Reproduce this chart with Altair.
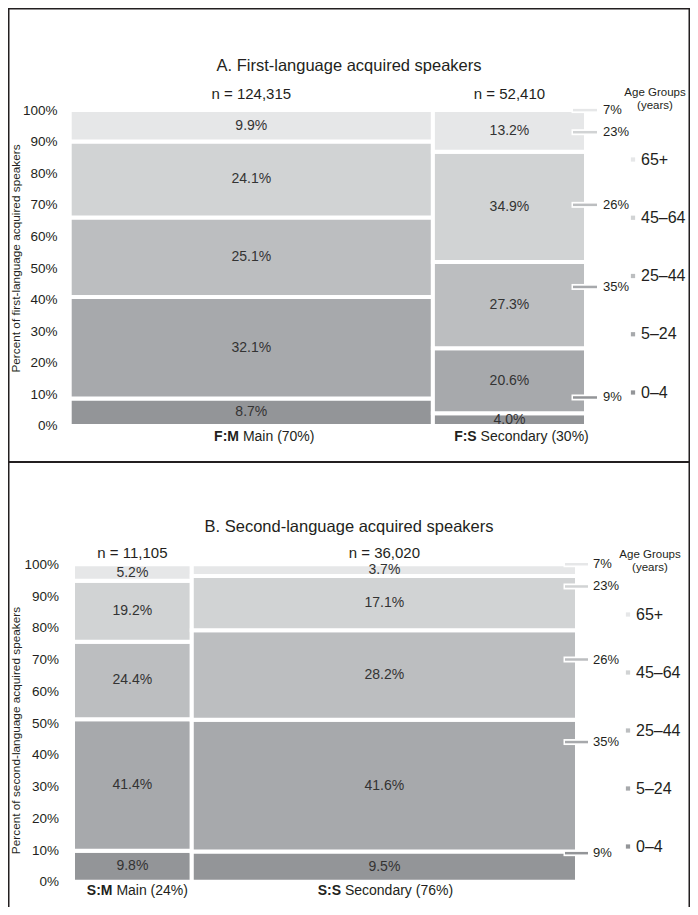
import altair as alt
import pandas as pd

FONT = "Liberation Sans"
INK = "#231f20"

# ---------------- data ----------------
age_groups = ["0–4", "5–24", "25–44", "45–64", "65+"]
age_colors = ["#939598", "#a7a9ac", "#bcbec0", "#d1d3d4", "#e6e7e8"]

a_title = "A. First-language acquired speakers"
a_ytitle = "Percent of first-language acquired speakers"
a_codes = ["F:M", "F:S"]
a_names = ["Main (70%)", "Secondary (30%)"]
a_n = [124315, 52410]
a_main = [8.7, 32.1, 25.1, 24.1, 9.9]
a_secondary = [4.0, 20.6, 27.3, 34.9, 13.2]

b_title = "B. Second-language acquired speakers"
b_ytitle = "Percent of second-language acquired speakers"
b_codes = ["S:M", "S:S"]
b_names = ["Main (24%)", "Secondary (76%)"]
b_n = [11105, 36020]
b_main = [9.8, 41.4, 24.4, 19.2, 5.2]
b_secondary = [9.5, 41.6, 28.2, 17.1, 3.7]

reference_pct = [9, 35, 26, 23, 7]

legend_order = list(reversed(age_groups))
legend_colors = list(reversed(age_colors))

# Arial-like advance widths (per 1000 em) for the label characters
REG = {' ': 278, '(': 333, ')': 333, '%': 889, ':': 278, 'M': 833, 'S': 667, 'F': 611,
       'a': 556, 'i': 222, 'n': 556, 'e': 556, 'c': 500, 'o': 556, 'd': 556, 'r': 333, 'y': 500}
BOLD = {'F': 611, ':': 333, 'M': 833, 'S': 667}


def text_w(s, size, table):
    return sum(table.get(ch, 556) for ch in s) * size / 1000.0


def seg_table(ns, pct_lists):
    total = sum(ns)
    rows = []
    x = 0.0
    for n, pcts in zip(ns, pct_lists):
        w = n / total
        s = sum(pcts)
        y = 0.0
        for g, p in zip(age_groups, pcts):
            h = p / s
            rows.append(dict(age=g, x0=x, x1=x + w, y0=y, y1=y + h,
                             xm=x + w / 2, ym=y + h / 2, label=f"{p:.1f}%"))
            y += h
        x += w
    return pd.DataFrame(rows)


def bar_table(codes, names, ns):
    total = sum(ns)
    rows = []
    x = 0.0
    for c, nm, n in zip(codes, names, ns):
        w = n / total
        rows.append(dict(code=c, name=nm, ntext=f"n = {n:,}", xm=x + w / 2, top=1.0, bottom=0.0))
        x += w
    return pd.DataFrame(rows)


def ref_table():
    rows = []
    cum = 0
    for g, c, p in zip(age_groups, age_colors, reference_pct):
        cum += p
        rows.append(dict(age=g, col=c, cum=cum / 100.0, label=f"{p}%"))
    return pd.DataFrame(rows)


W = 682
H = 899


def make_panel(title, ytitle, codes, names, ns, main, secondary, g):
    seg = seg_table(ns, [main, secondary])
    bars = bar_table(codes, names, ns)
    ref = ref_table()

    ux = g["x1px"] - g["x0px"]
    xdom = [-g["x0px"] / ux, (W - g["x0px"]) / ux]
    vy = g["y0px"] - g["y1px"]
    ydom = [(g["y0px"] - H) / vy, g["y0px"] / vy]
    xs = alt.Scale(domain=xdom, nice=False, zero=False)
    ys = alt.Scale(domain=ydom, nice=False, zero=False)
    cs = alt.Scale(domain=legend_order, range=legend_colors)

    yaxis = alt.Axis(
        orient="left",
        values=[round(i / 10, 1) for i in range(11)], format=".0%",
        domain=False, ticks=False, tickSize=0, grid=False, labelPadding=0,
        offset=-g["ylab_x"], labelFontSize=13.5, labelColor=INK, labelFont=FONT,
        title=ytitle, titleX=g["ytitle_x"] - g["ylab_x"], titleY=g["ytitle_y"],
        titleAngle=270, titleAlign="center", titleBaseline="middle",
        titleFontSize=11.8, titleFontWeight="normal", titleColor=INK, titleFont=FONT,
    )
    leg = alt.Legend(
        orient="none", legendX=g["leg_x"], legendY=g["leg_y"],
        title=["Age Groups", "(years)"], titleFontSize=11.5, titleFontWeight="normal",
        titleColor=INK, titleFont=FONT, titleAlign="center", titleAnchor="middle",
        titleLineHeight=13, titlePadding=g["leg_tpad"],
        symbolType="square", symbolSize=18, symbolStrokeWidth=0,
        labelFontSize=16, labelFont=FONT, labelColor=INK, labelOffset=0,
        rowPadding=g["leg_rpad"],
    )

    def X(f):
        return alt.X(f, scale=xs, axis=None)

    def Y(f):
        return alt.Y(f, scale=ys, axis=yaxis)

    rects = alt.Chart(seg).mark_rect(stroke="white", strokeWidth=4).encode(
        x=X("x0:Q"), x2="x1", y=Y("y0:Q"), y2="y1",
        color=alt.Color("age:N", scale=cs, legend=leg),
    )
    seg_text = alt.Chart(seg).mark_text(fontSize=14, color="#333333", font=FONT, baseline="middle").encode(
        x=X("xm:Q"), y=Y("ym:Q"), text="label:N")
    n_text = alt.Chart(bars).mark_text(fontSize=15, color=INK, font=FONT, baseline="middle", dy=g["n_dy"]).encode(
        x=X("xm:Q"), y=Y("top:Q"), text="ntext:N")

    layers = [rects, seg_text, n_text]

    fs = 14
    for i in range(len(bars)):
        row = bars.iloc[i]
        wb = text_w(row["code"], fs, BOLD)
        wr = text_w(" " + row["name"], fs, REG)
        start = -(wb + wr) / 2 + g["xl_shift"][i]
        one = bars.iloc[[i]]
        layers.append(alt.Chart(one).mark_text(fontSize=fs, fontWeight="bold", color=INK, font=FONT,
                                               align="left", baseline="middle", dx=start, dy=g["xl_dy"]).encode(
            x=X("xm:Q"), y=Y("bottom:Q"), text="code:N"))
        layers.append(alt.Chart(one).mark_text(fontSize=fs, color=INK, font=FONT,
                                               align="left", baseline="middle",
                                               dx=start + wb + text_w(" ", fs, REG), dy=g["xl_dy"]).encode(
            x=X("xm:Q"), y=Y("bottom:Q"), text="name:N"))

    # reference markers (overall age distribution)
    layers.append(alt.Chart(ref).mark_rule(color="white", strokeWidth=6).encode(
        x=alt.value(g["mk_x0"] - 1.5), x2=alt.value(g["mk_x1"]), y=Y("cum:Q")))
    layers.append(alt.Chart(ref).mark_rule(strokeWidth=2.5).encode(
        x=alt.value(g["mk_x0"]), x2=alt.value(g["mk_x1"]), y=Y("cum:Q"),
        color=alt.Color("col:N", scale=None)))
    layers.append(alt.Chart(ref).mark_text(fontSize=13, color=INK, font=FONT, align="left", baseline="middle").encode(
        x=alt.value(g["mk_lx"]), y=Y("cum:Q"), text="label:N"))

    # panel title
    tdf = pd.DataFrame({"t": [title]})
    layers.append(alt.Chart(tdf).mark_text(fontSize=16.5, color=INK, font=FONT, baseline="middle").encode(
        x=alt.value(W / 2), y=alt.value(g["title_y"]), text="t:N"))

    # frame
    one = pd.DataFrame({"k": [0]})
    for (xa, xb, ya, yb, sw) in g["frame"]:
        layers.append(alt.Chart(one).mark_rule(color=INK, strokeWidth=sw).encode(
            x=alt.value(xa), x2=alt.value(xb), y=alt.value(ya), y2=alt.value(yb)))

    return alt.layer(*layers)


gA = dict(y0px=417.9, y1px=102.1, x0px=61.7, x1px=578.0,
          ylab_x=49, ytitle_x=7, ytitle_y=250,
          n_dy=-16, xl_dy=11, xl_shift=[13, 12],
          mk_x0=565, mk_x1=589, mk_lx=595,
          title_y=58,
          leg_x=616, leg_y=79, leg_tpad=40, leg_rpad=42.25,
          frame=[(0.75, 0.75, 0, 454, 1.5), (681.25, 681.25, 0, 899, 1.5),
                 (0, 682, 0.75, 0.75, 1.5), (0, 682, 454, 454, 2)])

gB = dict(y0px=873.75, y1px=556.25, x0px=65.0, x1px=569.0,
          ylab_x=50.5, ytitle_x=7, ytitle_y=722,
          n_dy=-11, xl_dy=9.5, xl_shift=[5, 1],
          mk_x0=557, mk_x1=580, mk_lx=585,
          title_y=519,
          leg_x=611, leg_y=541, leg_tpad=33, leg_rpad=42,
          frame=[(0.75, 0.75, 454, 899, 1.5)])

pA = make_panel(a_title, a_ytitle, a_codes, a_names, a_n, a_main, a_secondary, gA)
pB = make_panel(b_title, b_ytitle, b_codes, b_names, b_n, b_main, b_secondary, gB)

chart = alt.layer(pA, pB).resolve_scale(
    x="independent", y="independent", color="independent"
).resolve_axis(y="independent").resolve_legend(color="independent").properties(
    width=W, height=H, padding=0, autosize=alt.AutoSizeParams(type="none")
).configure_view(stroke=None).configure(font=FONT, background="white")

chart.save("out.html", embed_options={"renderer": "svg", "actions": False})
